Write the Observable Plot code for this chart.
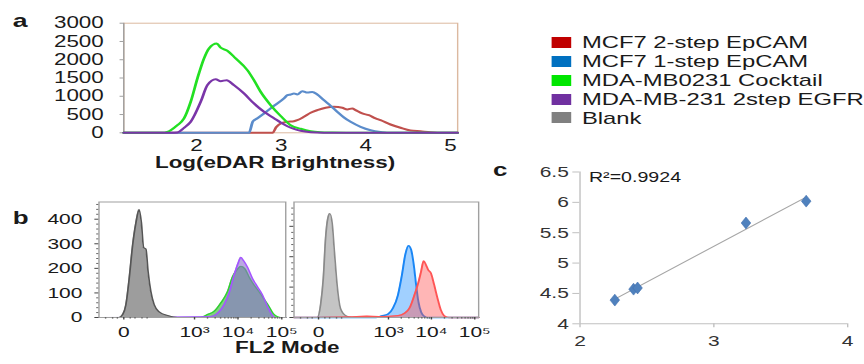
<!DOCTYPE html>
<html><head><meta charset="utf-8">
<script src="https://cdn.jsdelivr.net/npm/d3@7"></script>
<script src="https://cdn.jsdelivr.net/npm/@observablehq/plot@0.6"></script>
<style>
html,body{margin:0;padding:0;background:#fff;overflow:hidden;width:864px;height:364px;}
#wrap{position:absolute;left:0;top:0;width:617.14px;height:364px;transform:scaleX(1.4);transform-origin:0 0;font-family:'Liberation Sans',Arial,sans-serif;color:#1a1a1a;}
.t{position:absolute;white-space:nowrap;line-height:1;}
.sw{position:absolute;}
</style></head>
<body><div id="wrap"></div>
<script>
// ---------- Panel a data: x = Log(eDAR Brightness), y = count ----------
const aXTicks = [2, 3, 4, 5];
const aYTicks = [0, 500, 1000, 1500, 2000, 2500, 3000];
const aRed = [[1.14,0],[2.9,0],[2.94,150],[2.994,255],[3.073,300],[3.15,318],[3.19,345],[3.269,438],[3.348,548],[3.427,620],[3.525,685],[3.623,712],[3.722,685],[3.781,639],[3.84,667],[3.88,620],[3.958,529],[4.036,482],[4.115,392],[4.174,345],[4.292,227],[4.41,137],[4.528,63],[4.646,40],[4.764,15],[4.9,0],[5.085,0]];
const aBlue = [[1.14,0],[2.62,0],[2.665,310],[2.72,400],[2.797,529],[2.915,740],[3.033,940],[3.073,1030],[3.112,1049],[3.151,1077],[3.19,1050],[3.25,1140],[3.309,1100],[3.368,1120],[3.427,1049],[3.505,893],[3.584,740],[3.663,575],[3.742,419],[3.82,301],[3.938,164],[4.056,71],[4.174,20],[4.25,0],[5.085,0]];
const aGreen = [[1.14,0],[1.6,0],[1.656,27],[1.695,71],[1.774,208],[1.852,392],[1.931,849],[2.01,1488],[2.088,2036],[2.147,2310],[2.238,2447],[2.285,2329],[2.364,2247],[2.462,2036],[2.6,1715],[2.678,1441],[2.757,1123],[2.876,756],[2.994,460],[3.112,208],[3.23,110],[3.348,44],[3.46,18],[3.6,8],[3.94,0],[5.085,0]];
const aPurple = [[1.14,0],[1.7,0],[1.774,10],[1.852,137],[1.931,301],[2.049,849],[2.128,1304],[2.226,1468],[2.285,1414],[2.356,1441],[2.442,1304],[2.56,1077],[2.678,803],[2.797,575],[2.915,400],[2.994,280],[3.073,180],[3.151,105],[3.23,55],[3.35,18],[3.5,4],[3.7,0],[5.085,0]];
const legendNames = ["MCF7 2-step EpCAM","MCF7 1-step EpCAM","MDA-MB0231 Cocktail","MDA-MB-231 2step EGFR","Blank"];
const legendColors = ["#c00000","#0070c0","#00e600","#7030a0","#808080"];

// ---------- Panel b data: x = FL2 value, y = count ----------
const bXTicks = [0, 1000, 10000, 100000];
const bXLabels = ["0", "10³", "10⁴", "10⁵"];
const bXMinor = [-40,-20,-10,10,20,40,60,2000,3000,4000,5000,6000,7000,8000,9000,20000,30000,40000,50000,60000,70000,80000,90000];
const bLYTicks = [0, 100, 200, 300, 400];
const bRYTicks = [0, 100, 200, 300];
const bLGray = [[-67,0],[-7,0],[-1.5,12],[2.9,52],[8.2,159],[14.6,292],[22.2,385],[31,439],[38,385],[45.6,285],[54.7,279],[64.7,185],[78.5,105],[98,52],[135,23],[224,8],[397,0],[123000,0]];
const bLGreen = [[-67,0],[1400,0],[2000,12],[2840,25],[4040,59],[5760,105],[7490,165],[9730,196],[11580,208],[14290,199],[17910,165],[23290,132],[30280,105],[39350,75],[51200,45],[64500,15],[79580,3],[95000,0],[123000,0]];
const bLPurple = [[-67,0],[2380,4],[3400,17],[4810,52],[6260,99],[8140,172],[10270,225],[11580,245],[13340,232],[16470,205],[21410,159],[27830,125],[36180,92],[47080,45],[61200,8],[70000,0],[123000,0]];
const bRGray = [[-67,0],[-1.5,0],[2.9,42],[7.2,129],[11.3,260],[15.9,326],[20.5,342],[26.6,310],[33.1,216],[42,107],[54.7,31],[78.5,7],[123,0],[123000,0]];
const bRBlue = [[-67,0],[500,0],[685,5],[977,11],[1280,31],[1670,74],[2070,140],[2470,206],[2950,236],[3400,222],[3900,173],[4420,107],[4990,52],[5760,18],[6850,4],[8000,0],[123000,0]];
const bRRed = [[-67,0],[100,2],[300,4],[600,3],[1670,6],[2380,14],[3110,31],[4040,74],[4810,107],[5760,151],[6600,186],[7490,173],[8450,156],[9730,146],[11580,107],[13770,64],[16470,25],[19600,6],[25450,0],[123000,0]];

// ---------- Panel c data ----------
const cX = [2.26, 2.40, 2.43, 3.24, 3.69];
const cY = [4.39, 4.57, 4.59, 5.66, 6.02];
const cXTicks = [2, 3, 4];
const cYTicks = [4, 4.5, 5, 5.5, 6, 6.5];
const cNote = "R²=0.9924";

const wrap = document.getElementById("wrap");
const FONT = "'Liberation Sans', Arial, sans-serif";
const baseStyle = (fs) => ({fontFamily: FONT, fontSize: fs + "px", color: "#1a1a1a", background: "none", overflow: "visible"});
function place(svg, left, top) {
  svg.style.position = "absolute";
  svg.style.left = left + "px";
  svg.style.top = top + "px";
  wrap.appendChild(svg);
}
function text(str, x, baseline, size, bold, anchor) {
  const d = document.createElement("div");
  d.className = "t";
  d.textContent = str;
  d.style.fontSize = size + "px";
  d.style.fontWeight = bold ? "bold" : "normal";
  d.style.left = x + "px";
  d.style.top = (baseline - 0.8465 * size) + "px";
  if (anchor === "middle") d.style.transform = "translateX(-50%)";
  wrap.appendChild(d);
}
const X = d => d[0], Y = d => d[1];

// ---------- Panel a ----------
const aSeries = [[aRed, "#c0504d"], [aBlue, "#5b8ccb"], [aGreen, "#22e022"], [aPurple, "#7a35a8"]];
place(Plot.plot({
  width: 335, height: 175,
  marginLeft: 87.9, marginRight: 8.6, marginTop: 22.7, marginBottom: 42.7,
  style: baseStyle(16),
  x: {domain: [1.14, 5.085]},
  y: {domain: [0, 3000]},
  marks: [
    Plot.frame({stroke: "#dcb9a0"}),
    Plot.ruleX([1.14], {stroke: "#a0a0a0"}),
    Plot.axisY(aYTicks, {tickSize: 2.5, tickPadding: 11.8, stroke: "#a0a0a0", label: null, tickFormat: d => String(d)}),
    Plot.axisX(aXTicks, {tickSize: 0, tickPadding: 7, label: null, tickFormat: d => String(d)}),
    ...aSeries.map(([data, c]) => Plot.line(data, {x: X, y: Y, stroke: c, strokeWidth: 2, curve: "monotone-x"}))
  ]
}), 0, 0);
text("Log(eDAR Brightness)", 110.7, 168.5, 16, true);
text("a", 9.1, 26.7, 19, true);

// legend
legendNames.forEach((name, i) => {
  const cy = 42.7 + i * 18.8;
  const sw = document.createElement("div");
  sw.className = "sw";
  sw.style.left = "394.3px"; sw.style.top = (cy - 5.5) + "px";
  sw.style.width = "13.6px"; sw.style.height = "11px";
  sw.style.background = legendColors[i];
  wrap.appendChild(sw);
  text(name, 415.7, cy + 6.1, 17, false);
});

// ---------- Panel b ----------
const bx = {type: "symlog", constant: 25, domain: [-67, 123000]};
const bLabel = new Map(bXTicks.map((v, i) => [v, bXLabels[i]]));
function bAxes(yMajor, yMinorMax, showYLabels) {
  return [
    Plot.frame({stroke: "#a0a0a0"}),
    Plot.axisY(yMajor, {tickSize: 2.8, tickPadding: 9, stroke: "#444", label: null, tickFormat: showYLabels ? (d => String(d)) : (() => "")}),
    Plot.axisY(d3.range(0, yMinorMax, 20).filter(v => v % 100 !== 0), {tickSize: 1.5, stroke: "#666", label: null, tickFormat: () => ""}),
    Plot.axisX(bXTicks, {tickSize: 2.5, tickPadding: 6, stroke: "#444", label: null, tickFormat: d => bLabel.get(d)}),
    Plot.axisX(bXMinor, {tickSize: 1.6, stroke: "#666", label: null, tickFormat: () => ""})
  ];
}
place(Plot.plot({
  width: 210, height: 184,
  marginLeft: 70.2, marginRight: 6.4, marginTop: 21.5, marginBottom: 47,
  style: baseStyle(15),
  x: bx, y: {domain: [0, 470]},
  marks: [
    Plot.areaY(bLGreen, {x: X, y: Y, fill: "#00a500", fillOpacity: 0.5, curve: "monotone-x"}),
    Plot.lineY(bLGreen, {x: X, y: Y, stroke: "#30d030", strokeWidth: 1.1, curve: "monotone-x"}),
    Plot.areaY(bLPurple, {x: X, y: Y, fill: "#8c6ecf", fillOpacity: 0.6, curve: "monotone-x"}),
    Plot.lineY(bLPurple, {x: X, y: Y, stroke: "#a455ff", strokeWidth: 1.2, curve: "monotone-x"}),
    Plot.areaY(bLGray, {x: X, y: Y, fill: "#9d9d9d", curve: "monotone-x"}),
    Plot.lineY(bLGray, {x: X, y: Y, stroke: "#555", strokeWidth: 1.2, curve: "monotone-x"}),
    ...bAxes(bLYTicks, 470, true)
  ]
}), 0, 180);
place(Plot.plot({
  width: 140, height: 184,
  marginLeft: 4.5, marginRight: 3.6, marginTop: 21.5, marginBottom: 47,
  style: baseStyle(15),
  x: bx, y: {domain: [0, 380]},
  marks: [
    Plot.areaY(bRGray, {x: X, y: Y, fill: "#c4c4c4", curve: "monotone-x"}),
    Plot.lineY(bRGray, {x: X, y: Y, stroke: "#8a8a8a", strokeWidth: 1.2, curve: "monotone-x"}),
    Plot.areaY(bRBlue, {x: X, y: Y, fill: "#1e90ff", fillOpacity: 0.42, curve: "monotone-x"}),
    Plot.lineY(bRBlue, {x: X, y: Y, stroke: "#1a86f5", strokeWidth: 1.4, curve: "monotone-x"}),
    Plot.areaY(bRRed, {x: X, y: Y, fill: "#ff5050", fillOpacity: 0.42, curve: "monotone-x"}),
    Plot.lineY(bRRed, {x: X, y: Y, stroke: "#ff5555", strokeWidth: 1.4, curve: "monotone-x"}),
    ...bAxes(bRYTicks, 380, false)
  ]
}), 205, 180);
text("FL2 Mode", 167.9, 353.3, 16, true);
text("b", 9.1, 225, 18.5, true);

// ---------- Panel c ----------
const cData = cX.map((x, i) => ({x, y: cY[i]}));
place(Plot.plot({
  width: 287.1, height: 224,
  marginLeft: 83.8, marginRight: 12.1, marginTop: 31.5, marginBottom: 40.7,
  style: baseStyle(15),
  x: {domain: [2, 4]},
  y: {domain: [4, 6.5]},
  marks: [
    Plot.ruleX([2], {stroke: "#c0c0c0"}),
    Plot.ruleY([4], {stroke: "#c0c0c0"}),
    Plot.axisY(cYTicks, {tickSize: 5, tickPadding: 3, stroke: "#c0c0c0", fill: "#333", label: null, tickFormat: d => String(d)}),
    Plot.axisX(cXTicks, {tickSize: 4, tickPadding: 7.5, stroke: "#c0c0c0", fill: "#333", label: null}),
    Plot.linearRegressionY(cData, {x: "x", y: "y", ci: 0, stroke: "#a6a6a6", strokeWidth: 1}),
    Plot.dot(cData, {x: "x", y: "y", symbol: "diamond", r: 3.6, fill: "#4f81bd", stroke: "#3f6fae", strokeWidth: 0.5})
  ]
}), 330, 140);
text(cNote, 420.7, 182, 14, false);
text("c", 352.1, 176.7, 18.5, true);
</script></body></html>
